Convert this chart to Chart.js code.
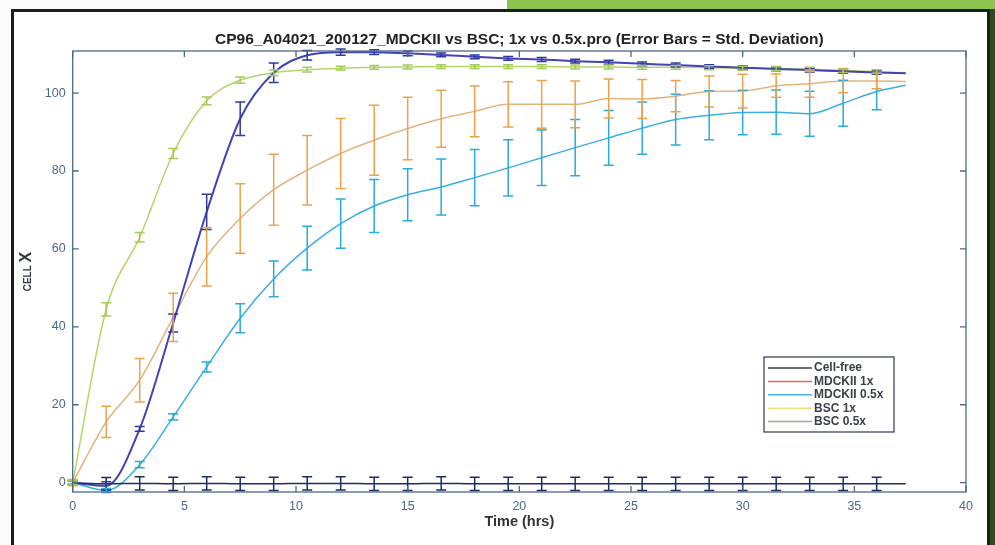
<!DOCTYPE html>
<html>
<head>
<meta charset="utf-8">
<script src="https://cdn.jsdelivr.net/npm/chart.js@4.4.1/dist/chart.umd.min.js"></script>
<style>
  body { margin: 0; width: 995px; height: 545px; background: #fafafa; position: relative; overflow: hidden; }
  #greenTop { position: absolute; left: 507px; top: 0; width: 488px; height: 10px; background: #8bc34f; }
  #greenSide { position: absolute; left: 990px; top: 9px; width: 5px; height: 536px; background: #2e4d1f; }
  #frame { position: absolute; left: 11px; top: 9px; width: 973px; height: 560px; border: 3px solid #1d1d1d; background: #fff; }
  #cellChart { position: absolute; left: 0; top: 0; }
</style>
</head>
<body>
<div id="greenTop"></div>
<div id="greenSide"></div>
<div id="frame"></div>
<canvas id="cellChart" width="995" height="545"></canvas>
<script>
// time points (hrs), error bars every 1.5 h, last point has no bar
const times = [0, 1.5, 3, 4.5, 6, 7.5, 9, 10.5, 12, 13.5, 15, 16.5, 18, 19.5, 21, 22.5, 24, 25.5, 27, 28.5, 30, 31.5, 33, 34.5, 36, 37.3];

const cellFree = [0, -0.3, -0.2, -0.3, -0.2, -0.3, -0.3, -0.2, -0.2, -0.3, -0.3, -0.2, -0.3, -0.3, -0.3, -0.3, -0.3, -0.3, -0.3, -0.3, -0.3, -0.3, -0.3, -0.3, -0.3, -0.3];
const cellFreeErr = [0.5, 1.6, 1.7, 1.7, 1.7, 1.7, 1.7, 1.7, 1.7, 1.7, 1.7, 1.7, 1.7, 1.7, 1.7, 1.7, 1.7, 1.7, 1.7, 1.7, 1.7, 1.7, 1.7, 1.7, 1.7, null];

const mdck1x = [0, -0.8, 13.8, 41, 69.5, 93.4, 105.2, 109.7, 110.5, 110.5, 110.2, 109.8, 109.3, 108.9, 108.6, 108.2, 107.9, 107.5, 107.2, 106.8, 106.5, 106.2, 105.9, 105.6, 105.3, 105.1];
const mdck1xErr = [0.5, 1, 0.6, 2.3, 4.5, 4.3, 2.5, 1.2, 0.8, 0.6, 0.6, 0.5, 0.5, 0.5, 0.5, 0.5, 0.5, 0.5, 0.5, 0.5, 0.5, 0.5, 0.5, 0.5, 0.5, null];

const mdck05x = [0, -2, 4.6, 16.9, 29.7, 42.2, 52.3, 60.2, 66.5, 71, 73.9, 75.9, 78.3, 80.8, 83.4, 86, 88.5, 91, 93.2, 94.3, 95, 95.1, 94.7, 97.4, 100.4, 102];
const mdck05xErr = [0.5, 0.5, 0.8, 0.8, 1.3, 3.7, 4.6, 5.6, 6.3, 6.8, 6.7, 7.2, 7.2, 7.2, 7.1, 7.2, 7, 6.7, 6.5, 6.3, 5.7, 5.7, 5.8, 5.9, 4.7, null];

const bsc1x = [0, 44.5, 63, 84.5, 98, 103.3, 105.2, 106, 106.4, 106.6, 106.7, 106.8, 106.8, 106.8, 106.8, 106.7, 106.7, 106.6, 106.6, 106.5, 106.4, 106.3, 106.1, 105.8, 105.5, 105.2];
const bsc1xErr = [0.5, 1.7, 1.2, 1.3, 1, 0.8, 0.7, 0.6, 0.5, 0.5, 0.5, 0.5, 0.5, 0.5, 0.5, 0.5, 0.5, 0.5, 0.5, 0.5, 0.5, 0.5, 0.5, 0.5, 0.5, null];

const bsc05x = [0, 15.6, 26.3, 42.4, 58, 67.8, 75.2, 80.2, 84.5, 87.9, 90.9, 93.4, 95.3, 97.1, 97.1, 97.1, 98.6, 98.5, 99.2, 100.4, 100.5, 101.9, 102.4, 103.1, 103.1, 103];
const bsc05xErr = [0.8, 4, 5.6, 6.2, 7.5, 8.9, 9.1, 8.9, 9, 9, 8, 7.3, 6.5, 5.8, 6.1, 6, 5, 5, 4, 4, 4.3, 3, 3.5, 3, 2, null];

const seriesNames = ["Cell-free", "MDCKII 1x", "MDCKII 0.5x", "BSC 1x", "BSC 0.5x"];
const xTicks = [0, 5, 10, 15, 20, 25, 30, 35, 40];
const yTicks = [0, 20, 40, 60, 80, 100];

// line colours as they show in the plot, and as they show in the legend box
const lineColors = ["#1e2d5e", "#4343b6", "#38afe0", "#b3d56a", "#e3b37e"];
const barColors = ["#1e2d5e", "#2f3a9c", "#2aaade", "#a2cc55", "#eba24a"];
const legendColors = ["#3a3f48", "#e2685c", "#45b4e4", "#ece27a", "#a3ab86"];

const values = [cellFree, mdck1x, mdck05x, bsc1x, bsc05x];
const errors = [cellFreeErr, mdck1xErr, mdck05xErr, bsc1xErr, bsc05xErr];

const axisColor = "#4b6a86";
const fontFamily = "'Liberation Sans', Arial, sans-serif";

const errorBarPlugin = {
    id: "errorBars",
    afterDatasetsDraw(chart) {
        const ctx = chart.ctx;
        const xs = chart.scales.x, ys = chart.scales.y;
        ctx.save();
        for (let k = 0; k < chart.data.datasets.length; k++) {
            const ds = chart.data.datasets[k];
            ctx.strokeStyle = ds.barColor;
            ctx.lineWidth = 1.5;
            ds.data.forEach((p, i) => {
                const e = ds.errors[i];
                if (e == null) return;
                const px = xs.getPixelForValue(p.x);
                const top = ys.getPixelForValue(p.y + e);
                const bot = ys.getPixelForValue(p.y - e);
                ctx.beginPath();
                ctx.moveTo(px, top); ctx.lineTo(px, bot);
                ctx.moveTo(px - 5, top); ctx.lineTo(px + 5, top);
                ctx.moveTo(px - 5, bot); ctx.lineTo(px + 5, bot);
                ctx.stroke();
            });
        }
        ctx.restore();
    }
};

// matlab style box with inward ticks, y label and legend
const boxPlugin = {
    id: "matlabBox",
    afterDraw(chart) {
        const ctx = chart.ctx;
        const a = chart.chartArea;
        const xs = chart.scales.x, ys = chart.scales.y;
        ctx.save();
        ctx.strokeStyle = axisColor;
        ctx.lineWidth = 1.3;
        ctx.strokeRect(a.left, a.top, a.right - a.left, a.bottom - a.top);
        ctx.beginPath();
        xTicks.forEach(v => {
            const px = xs.getPixelForValue(v);
            ctx.moveTo(px, a.bottom); ctx.lineTo(px, a.bottom - 6);
            ctx.moveTo(px, a.top); ctx.lineTo(px, a.top + 6);
        });
        yTicks.forEach(v => {
            const py = ys.getPixelForValue(v);
            ctx.moveTo(a.left, py); ctx.lineTo(a.left + 6, py);
            ctx.moveTo(a.right, py); ctx.lineTo(a.right - 6, py);
        });
        ctx.stroke();

        // y axis title: small "CELL" and a big "X"
        ctx.translate(27, (a.top + a.bottom) / 2);
        ctx.rotate(-Math.PI / 2);
        ctx.fillStyle = "#2e3440";
        ctx.textBaseline = "middle";
        ctx.font = "bold 10px " + fontFamily;
        const w1 = ctx.measureText("CELL ").width;
        ctx.font = "bold 16px " + fontFamily;
        const w2 = ctx.measureText("X").width;
        ctx.textAlign = "left";
        ctx.font = "bold 10px " + fontFamily;
        ctx.fillText("CELL ", -(w1 + w2) / 2, 1);
        ctx.font = "bold 16px " + fontFamily;
        ctx.fillText("X", -(w1 + w2) / 2 + w1, 0);
        ctx.restore();

        // legend box
        ctx.save();
        const bw = 130, bh = 75;
        const bx = a.right - 72 - bw, by = a.bottom - 60 - bh;
        ctx.fillStyle = "#fff";
        ctx.fillRect(bx, by, bw, bh);
        ctx.strokeStyle = "#3c4a58";
        ctx.lineWidth = 1.3;
        ctx.strokeRect(bx, by, bw, bh);
        ctx.font = "bold 12px " + fontFamily;
        ctx.textBaseline = "middle";
        ctx.textAlign = "left";
        chart.data.datasets.forEach((ds, i) => {
            const ly = by + 11 + i * 13.4;
            ctx.strokeStyle = ds.legendColor;
            ctx.lineWidth = 1.5;
            ctx.beginPath();
            ctx.moveTo(bx + 4, ly); ctx.lineTo(bx + 48, ly);
            ctx.stroke();
            ctx.fillStyle = "#3a3f48";
            ctx.fillText(ds.label, bx + 50, ly);
        });
        ctx.restore();
    }
};

const datasets = seriesNames.map((name, k) => ({
    label: name,
    data: times.map((t, i) => ({ x: t, y: values[k][i] })),
    errors: errors[k],
    barColor: barColors[k],
    legendColor: legendColors[k],
    borderColor: lineColors[k],
    borderWidth: k === 1 ? 2 : 1.5,
    pointRadius: 0,
    fill: false,
    cubicInterpolationMode: "monotone"
}));

new Chart("cellChart", {
    type: "line",
    data: { datasets: datasets },
    options: {
        responsive: false,
        animation: false,
        layout: { padding: { left: 12, right: 29, top: 0, bottom: 0 } },
        plugins: {
            legend: { display: false },
            tooltip: { enabled: false },
            title: {
                display: true,
                fullSize: false,
                text: "CP96_A04021_200127_MDCKII vs BSC; 1x vs 0.5x.pro (Error Bars = Std. Deviation)",
                color: "#222",
                font: { family: fontFamily, size: 15.5, weight: "bold" },
                padding: { top: 30.2, bottom: 2.2 }
            }
        },
        scales: {
            x: {
                type: "linear",
                min: 0,
                max: 40,
                afterBuildTicks: s => { s.ticks = xTicks.map(v => ({ value: v })); },
                afterFit: s => { s.height = 53; },
                grid: { display: false, drawTicks: false },
                border: { display: false },
                ticks: { color: axisColor, padding: 7, font: { family: fontFamily, size: 12.5 } },
                title: {
                    display: true,
                    text: "Time (hrs)",
                    color: "#333",
                    font: { family: fontFamily, size: 14.5, weight: "bold" },
                    padding: { top: 0, bottom: 14.3 }
                }
            },
            y: {
                min: -2.4,
                max: 110.8,
                afterBuildTicks: s => { s.ticks = yTicks.map(v => ({ value: v })); },
                afterFit: s => { s.width = 60.7; },
                grid: { display: false, drawTicks: false },
                border: { display: false },
                ticks: { color: axisColor, padding: 7, font: { family: fontFamily, size: 12.5 } }
            }
        }
    },
    plugins: [errorBarPlugin, boxPlugin]
});
</script>
</body>
</html>
